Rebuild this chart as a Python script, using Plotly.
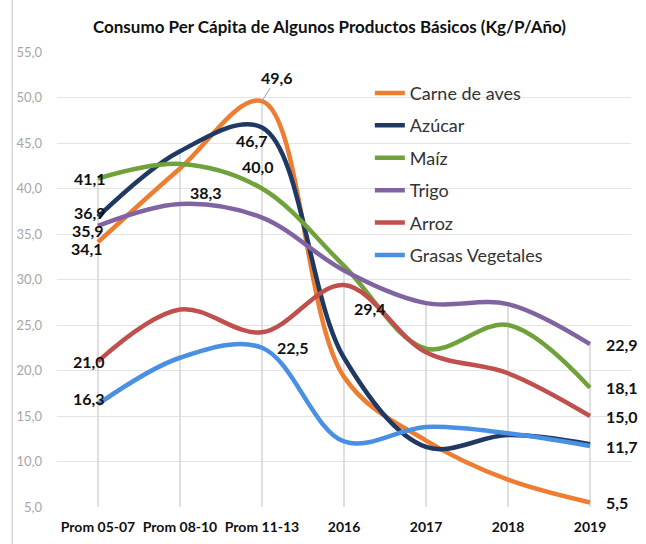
import plotly.graph_objects as go

categories = ["Prom 05-07", "Prom 08-10", "Prom 11-13", "2016", "2017", "2018", "2019"]

carne_de_aves = [34.1, 42.2, 49.6, 19.3, 12.3, 8.0, 5.5]
azucar = [36.9, 44.1, 46.7, 21.4, 11.6, 12.9, 11.9]
maiz = [41.1, 42.7, 40.0, 31.5, 22.4, 25.0, 18.1]
trigo = [35.9, 38.3, 36.8, 31.0, 27.4, 27.3, 22.9]
arroz = [21.0, 26.7, 24.2, 29.4, 22.0, 19.7, 15.0]
grasas_vegetales = [16.3, 21.4, 22.5, 12.2, 13.8, 13.1, 11.7]

series = [
    ("Carne de aves", carne_de_aves, "#ED7D31"),
    ("Azúcar", azucar, "#1F3864"),
    ("Maíz", maiz, "#6FA23A"),
    ("Trigo", trigo, "#8064A2"),
    ("Arroz", arroz, "#C0504D"),
    ("Grasas Vegetales", grasas_vegetales, "#4A90E2"),
]

# (serie, indice de categoria, xshift, yshift, xanchor)
labels = [
    ("Carne de aves", 0, -11, -6, "center"),
    ("Azúcar", 0, -8, 4, "center"),
    ("Maíz", 0, -8, 0, "center"),
    ("Trigo", 0, -10, -5, "center"),
    ("Arroz", 0, -9, 0, "center"),
    ("Grasas Vegetales", 0, -9, 6, "center"),
    ("Trigo", 1, 26, 11, "center"),
    ("Azúcar", 2, -10, -13, "center"),
    ("Maíz", 2, -4, 22, "center"),
    ("Grasas Vegetales", 2, 31, 0, "center"),
    ("Arroz", 3, 26, -24, "center"),
    ("Trigo", 6, 14, 0, "left"),
    ("Maíz", 6, 14, 0, "left"),
    ("Arroz", 6, 14, 0, "left"),
    ("Grasas Vegetales", 6, 14, 0, "left"),
    ("Carne de aves", 6, 14, 0, "left"),
]

FONT = "Lato"
Y_MIN = 5


def fmt(v):
    return f"{v:.1f}".replace(".", ",")


fig = go.Figure()

# lineas de proyeccion (drop lines) desde el valor maximo
drop_x, drop_y = [], []
for i, cat in enumerate(categories):
    top = max(vals[i] for _, vals, _ in series)
    drop_x += [cat, cat, None]
    drop_y += [Y_MIN, top, None]
fig.add_trace(go.Scatter(
    x=drop_x, y=drop_y, mode="lines",
    line=dict(color="#d4d4d4", width=1.5),
    showlegend=False, hoverinfo="skip",
))

for name, vals, color in series:
    fig.add_trace(go.Scatter(
        x=categories, y=vals, name=name, mode="lines",
        line=dict(color=color, width=4.5, shape="spline", smoothing=1),
        legendgroup=name,
    ))

lookup = {name: vals for name, vals, _ in series}
for name, idx, dx, dy, anchor in labels:
    fig.add_annotation(
        x=idx, y=lookup[name][idx], text=f"<b>{fmt(lookup[name][idx])}</b>",
        showarrow=False, xshift=dx, yshift=dy, xanchor=anchor,
        font=dict(family=FONT, size=16, color="#111111"),
    )

# etiqueta con linea guia
fig.add_annotation(
    x=2, y=carne_de_aves[2], text=f"<b>{fmt(carne_de_aves[2])}</b>",
    showarrow=True, arrowhead=0, arrowwidth=1, arrowcolor="#a0a0a0",
    ax=15, ay=-24, font=dict(family=FONT, size=16, color="#111111"),
)

# borde izquierdo del grafico
fig.add_shape(type="line", xref="paper", yref="paper", x0=-0.078, x1=-0.078,
              y0=-0.09, y1=1.12, line=dict(color="#d9d9d9", width=1.5))

fig.update_layout(
    width=646,
    height=544,
    margin=dict(l=57, r=15, t=52, b=37, autoexpand=False),
    paper_bgcolor="white",
    plot_bgcolor="white",
    separators=",.",
    font=dict(family=FONT),
    title=dict(
        text="<b>Consumo Per Cápita de Algunos Productos Básicos (Kg/P/Año)</b>",
        x=0.51, xanchor="center", y=0.95, yanchor="middle",
        font=dict(family=FONT, size=17, color="#111111"),
    ),
    legend=dict(
        x=0.545, y=0.95, xanchor="left", yanchor="top",
        bgcolor="rgba(0,0,0,0)", tracegroupgap=6,
        font=dict(family=FONT, size=18, color="#333333"),
    ),
    xaxis=dict(
        type="category", range=[-0.5, 6.5], showgrid=False, zeroline=False,
        showline=False, ticks="", tickangle=0, automargin=False,
        ticklabelstandoff=10,
        tickfont=dict(family=FONT, size=14, color="#111111", weight="bold"),
    ),
    yaxis=dict(
        range=[5, 55], dtick=5, tickformat=".1f", gridcolor="#e3e3e3",
        gridwidth=1, zeroline=False, showline=False, ticklabelstandoff=14,
        automargin=False,
        tickfont=dict(family=FONT, size=13, color="#a6a6a6"),
    ),
)

fig.write_html(
    "out.html",
    config={"displayModeBar": False},
    post_script="document.body.style.margin='0';",
)
